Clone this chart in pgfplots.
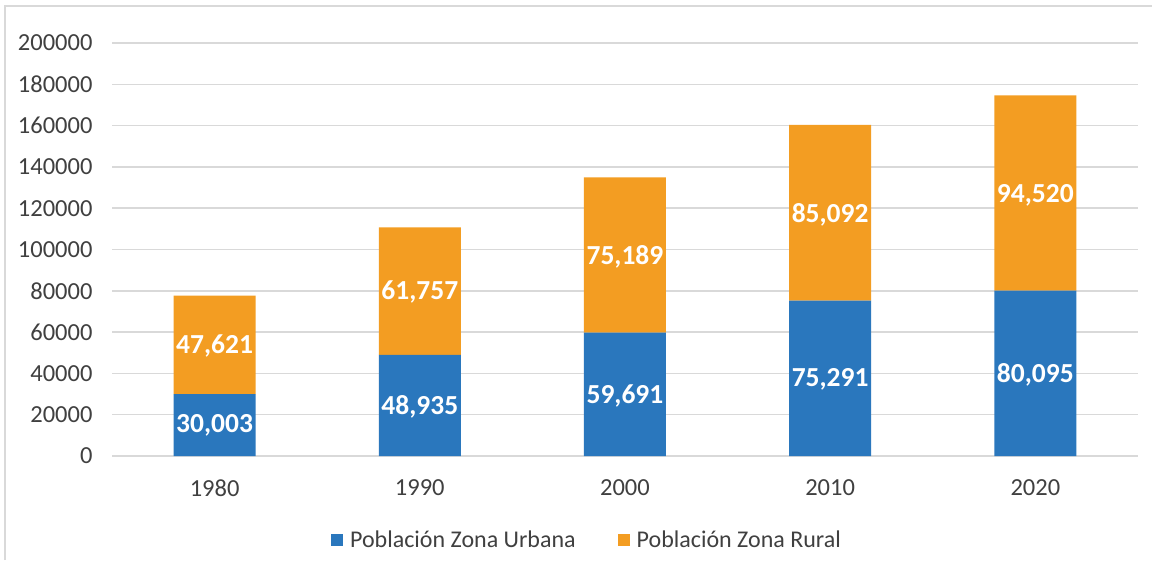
\documentclass[border=0pt]{standalone}
\usepackage{pgfplots}
\pgfplotsset{compat=1.18}
\usepackage{pgfplotstable}
\usepackage{fontspec}
\setmainfont{Carlito}
\definecolor{cblue}{HTML}{2A77BD}
\definecolor{corange}{HTML}{F39D22}
\definecolor{cgrid}{HTML}{D9D9D9}
\definecolor{ctext}{HTML}{404040}
\pgfplotstableread{
x urban rural
0 30003 47621
1 48935 61757
2 59691 75189
3 75291 85092
4 80095 94520
}\data
\begin{document}
\begin{tikzpicture}[x=1pt,y=1pt]
\path[use as bounding box] (0,0) rectangle (1152,560);
\fill[white] (0,0) rectangle (1152,560);
\draw[cgrid, line width=1.5pt] (5,0) -- (5,554) -- (1152,554);
\begin{axis}[
  at={(112pt,104pt)}, anchor=south west,
  scale only axis, width=1026pt, height=413pt,
  ybar stacked, bar width=82pt,
  xmin=-0.5, xmax=4.5, ymin=0, ymax=200000,
  xtick=data, xticklabels={1980,1990,2000,2010,2020},
  ytick={0,20000,...,200000},
  axis line style={draw=none},
  major tick length=0pt,
  ymajorgrids, grid style={cgrid, line width=1.5pt},
  /pgf/number format/assume math mode=true,
  yticklabel={\pgfmathprintnumber[fixed,1000 sep={}]{\tick}},
  scaled y ticks=false,
  ticklabel style={font=\fontsize{24.5}{28}\selectfont, text=ctext},
  yticklabel style={anchor=east, xshift=-16pt},
  xticklabel style={anchor=north, yshift=-20pt},
  nodes near coords={\pgfmathprintnumber[fixed,1000 sep={,}]{\pgfplotspointmeta}},
  visualization depends on={rawy/100 \as \half},
  every node near coord/.append style={font=\fontsize{27.5}{31}\selectfont\bfseries, text=white, anchor=center, shift={(axis direction cs:0,-\half)}},
  legend style={at={(0.463,-0.203)}, anchor=center, draw=none, fill=none,
    legend columns=2, font=\fontsize{24}{28}\selectfont, text=ctext,
    /tikz/every odd column/.append style={column sep=5pt},
    /tikz/every even column/.append style={column sep=40pt}},
  legend image code/.code={\fill[#1] (0pt,-6pt) rectangle (12pt,6pt);},
  clip=false,
]
\addplot[fill=cblue, draw=none, point meta=\thisrow{urban}] table[x=x, y=urban] {\data};
\addplot[fill=corange, draw=none, point meta=\thisrow{rural}] table[x=x, y=rural] {\data};
\legend{Población Zona Urbana, Población Zona Rural}
\end{axis}
\end{tikzpicture}
\end{document}
